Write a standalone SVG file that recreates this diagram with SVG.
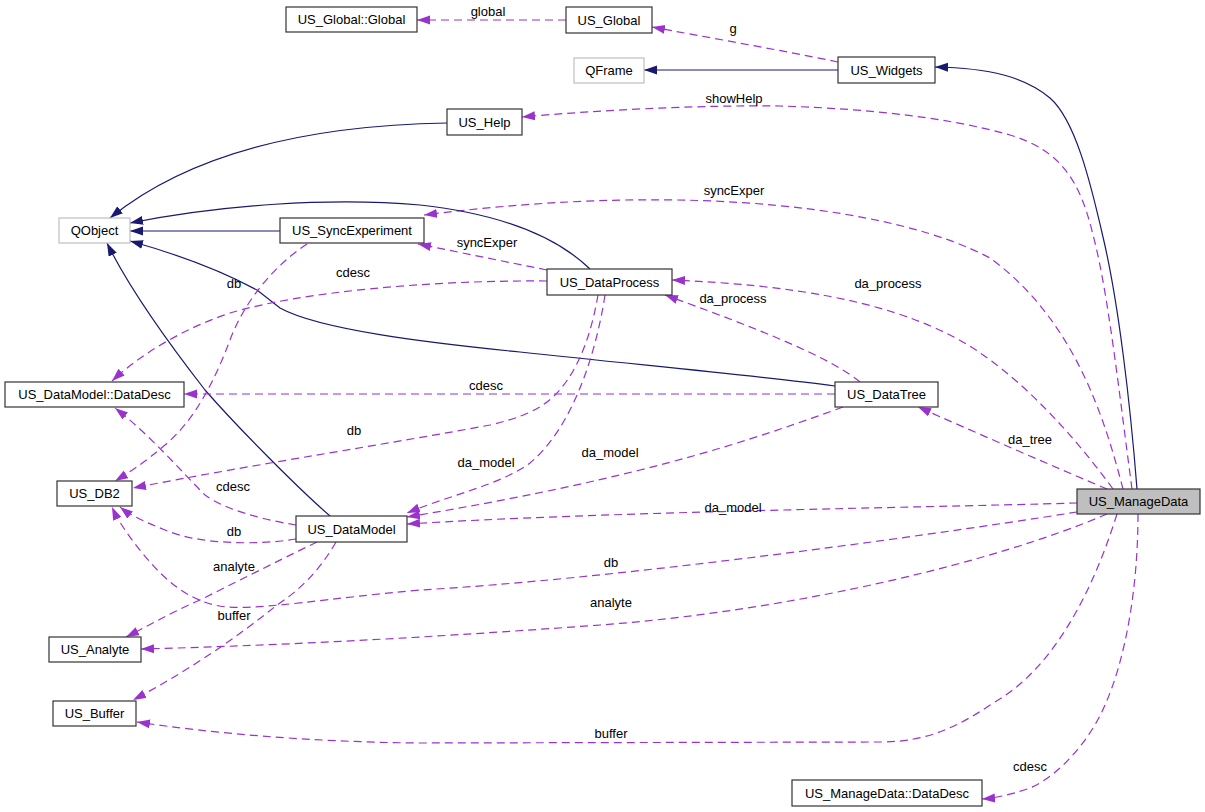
<svg xmlns="http://www.w3.org/2000/svg" width="1205" height="812" viewBox="0 0 1205 812">
<style>
.node rect{fill:#fff;stroke:#333;stroke-width:1.2}
.node.ext rect{stroke:#bfbfbf}
.node.main rect{fill:#bfbfbf}
.node text,.lbl{font-family:"Liberation Sans",Arial,sans-serif;font-size:13px;fill:#000}
.node text{text-anchor:middle}
.lbl{text-anchor:middle}
.inh{fill:none;stroke:#191970;stroke-width:1.2;marker-end:url(#aN)}
.use{fill:none;stroke:#9a32cd;stroke-width:1.2;stroke-dasharray:8,5;marker-end:url(#aP)}
</style>
<defs>
<marker id="aN" markerUnits="userSpaceOnUse" markerWidth="14" markerHeight="10" refX="13" refY="4.5" orient="auto"><path d="M0,0 L13,4.5 L0,9 z" fill="#191970"/></marker>
<marker id="aP" markerUnits="userSpaceOnUse" markerWidth="14" markerHeight="10" refX="13" refY="4.5" orient="auto"><path d="M0,0 L13,4.5 L0,9 z" fill="#9a32cd"/></marker>
</defs>
<rect width="1205" height="812" fill="#fff"/>
<g id="connectors">
<path class="use" d="M566,20 L417,20"/>
<path class="use" d="M838,62 C780,50 700,36 652,27"/>
<path class="inh" d="M838,70 L644,70"/>
<path class="inh" d="M1137,489 C1130,400 1118,300 1103,237 C1090,180 1075,120 1050,98 C1025,77 990,68 935,67"/>
<path class="use" d="M1132,489 C1120,400 1108,290 1093,235 C1080,180 1060,150 1010,135 C940,115 850,108 780,106 C700,105 600,110 522,117"/>
<path class="use" d="M1123,489 C1105,420 1075,320 990,258 C900,210 700,180 424,215"/>
<path class="use" d="M1113,489 C1070,430 1010,365 950,335 C880,300 790,285 672,280"/>
<path class="use" d="M860,382 C835,362 790,340 665,295"/>
<path class="use" d="M547,270 L418,244"/>
<path class="inh" d="M590,269 C560,240 510,215 420,205 C330,197 220,205 130,223"/>
<path class="inh" d="M280,231 L130,231"/>
<path class="inh" d="M447,123 C330,125 200,145 110,218"/>
<path class="inh" d="M835,386 C760,376 640,365 520,352 C430,343 320,330 280,308 L257,290 C220,270 180,255 130,241"/>
<path class="inh" d="M330,516 C300,490 240,430 205,390 C170,345 130,290 107,243"/>
<path class="use" d="M547,281 C430,280 300,292 230,313 C180,330 140,355 112,381"/>
<path class="use" d="M307,244 C275,265 245,300 230,340 C215,380 195,420 165,445 C145,462 130,472 115,481"/>
<path class="use" d="M835,394 L184,394"/>
<path class="use" d="M598,295 C592,330 580,370 555,395 C540,410 520,418 490,425 C400,442 250,465 133,488"/>
<path class="use" d="M605,295 C595,360 570,430 530,463 C500,485 450,495 407,513"/>
<path class="use" d="M843,407 C780,430 720,450 640,470 C560,490 480,505 407,517"/>
<path class="use" d="M1077,503 C900,508 600,512 407,524"/>
<path class="use" d="M296,525 C265,520 225,510 205,495 C180,470 150,435 115,408"/>
<path class="use" d="M296,539 C260,545 200,545 165,530 C145,522 130,515 120,507"/>
<path class="use" d="M1077,512 C900,540 600,580 420,590 C330,598 260,610 227,607 C195,604 170,585 150,562 C135,545 120,525 112,507"/>
<path class="use" d="M1107,514 C1000,560 800,610 600,625 C450,636 300,645 141,649"/>
<path class="use" d="M317,542 C290,555 250,575 200,600 C170,613 150,625 126,637"/>
<path class="use" d="M336,542 C320,570 300,590 277,605 C240,635 190,670 133,700"/>
<path class="use" d="M1117,514 C1090,600 1050,670 995,702 C960,725 930,742 880,742 L420,743 C310,742 210,733 137,722"/>
<path class="use" d="M1138,514 C1138,590 1125,660 1105,705 C1090,740 1060,775 1030,788 C1010,795 995,798 982,799"/>
<path class="use" d="M1107,489 C1050,465 970,430 918,407"/>
<text class="lbl" x="488" y="16">global</text>
<text class="lbl" x="733" y="33">g</text>
<text class="lbl" x="734" y="103">showHelp</text>
<text class="lbl" x="734" y="195">syncExper</text>
<text class="lbl" x="487" y="247">syncExper</text>
<text class="lbl" x="353" y="277">cdesc</text>
<text class="lbl" x="234" y="288">db</text>
<text class="lbl" x="888" y="288">da_process</text>
<text class="lbl" x="733" y="303">da_process</text>
<text class="lbl" x="486" y="390">cdesc</text>
<text class="lbl" x="354" y="435">db</text>
<text class="lbl" x="1030" y="444">da_tree</text>
<text class="lbl" x="610" y="457">da_model</text>
<text class="lbl" x="486" y="467">da_model</text>
<text class="lbl" x="233" y="491">cdesc</text>
<text class="lbl" x="733" y="512">da_model</text>
<text class="lbl" x="234" y="536">db</text>
<text class="lbl" x="234" y="571">analyte</text>
<text class="lbl" x="611" y="567">db</text>
<text class="lbl" x="611" y="607">analyte</text>
<text class="lbl" x="234" y="620">buffer</text>
<text class="lbl" x="611" y="738">buffer</text>
<text class="lbl" x="1030" y="771">cdesc</text>
</g>
<g id="n_global_global" class="node"><rect x="286" y="7" width="131" height="25"/><text x="351.5" y="24">US_Global::Global</text></g>
<g id="n_global" class="node"><rect x="566" y="7" width="86" height="26"/><text x="609" y="24.5">US_Global</text></g>
<g id="n_qframe" class="node ext"><rect x="574" y="58" width="70" height="25"/><text x="609" y="75">QFrame</text></g>
<g id="n_help" class="node"><rect x="447" y="109" width="75" height="26"/><text x="484.5" y="126.5">US_Help</text></g>
<g id="n_widgets" class="node"><rect x="838" y="57" width="97" height="26"/><text x="886.5" y="74.5">US_Widgets</text></g>
<g id="n_qobject" class="node ext"><rect x="59" y="218" width="71" height="25"/><text x="94.5" y="235">QObject</text></g>
<g id="n_syncexperiment" class="node"><rect x="280" y="218" width="144" height="25"/><text x="352" y="235">US_SyncExperiment</text></g>
<g id="n_dataprocess" class="node"><rect x="547" y="269" width="125" height="26"/><text x="609.5" y="286.5">US_DataProcess</text></g>
<g id="n_dm_datadesc" class="node"><rect x="5" y="382" width="179" height="25"/><text x="94.5" y="399">US_DataModel::DataDesc</text></g>
<g id="n_db2" class="node"><rect x="57" y="481" width="75" height="25"/><text x="94.5" y="498">US_DB2</text></g>
<g id="n_datamodel" class="node"><rect x="296" y="516" width="111" height="26"/><text x="351.5" y="533.5">US_DataModel</text></g>
<g id="n_datatree" class="node"><rect x="835" y="382" width="103" height="25"/><text x="886.5" y="399">US_DataTree</text></g>
<g id="n_managedata" class="node main"><rect x="1077" y="489" width="123" height="25"/><text x="1138.5" y="506">US_ManageData</text></g>
<g id="n_analyte" class="node"><rect x="49" y="637" width="92" height="25"/><text x="95" y="654">US_Analyte</text></g>
<g id="n_buffer" class="node"><rect x="53" y="701" width="83" height="25"/><text x="94.5" y="718">US_Buffer</text></g>
<g id="n_md_datadesc" class="node"><rect x="792" y="780" width="190" height="26"/><text x="887" y="797.5">US_ManageData::DataDesc</text></g>
</svg>
